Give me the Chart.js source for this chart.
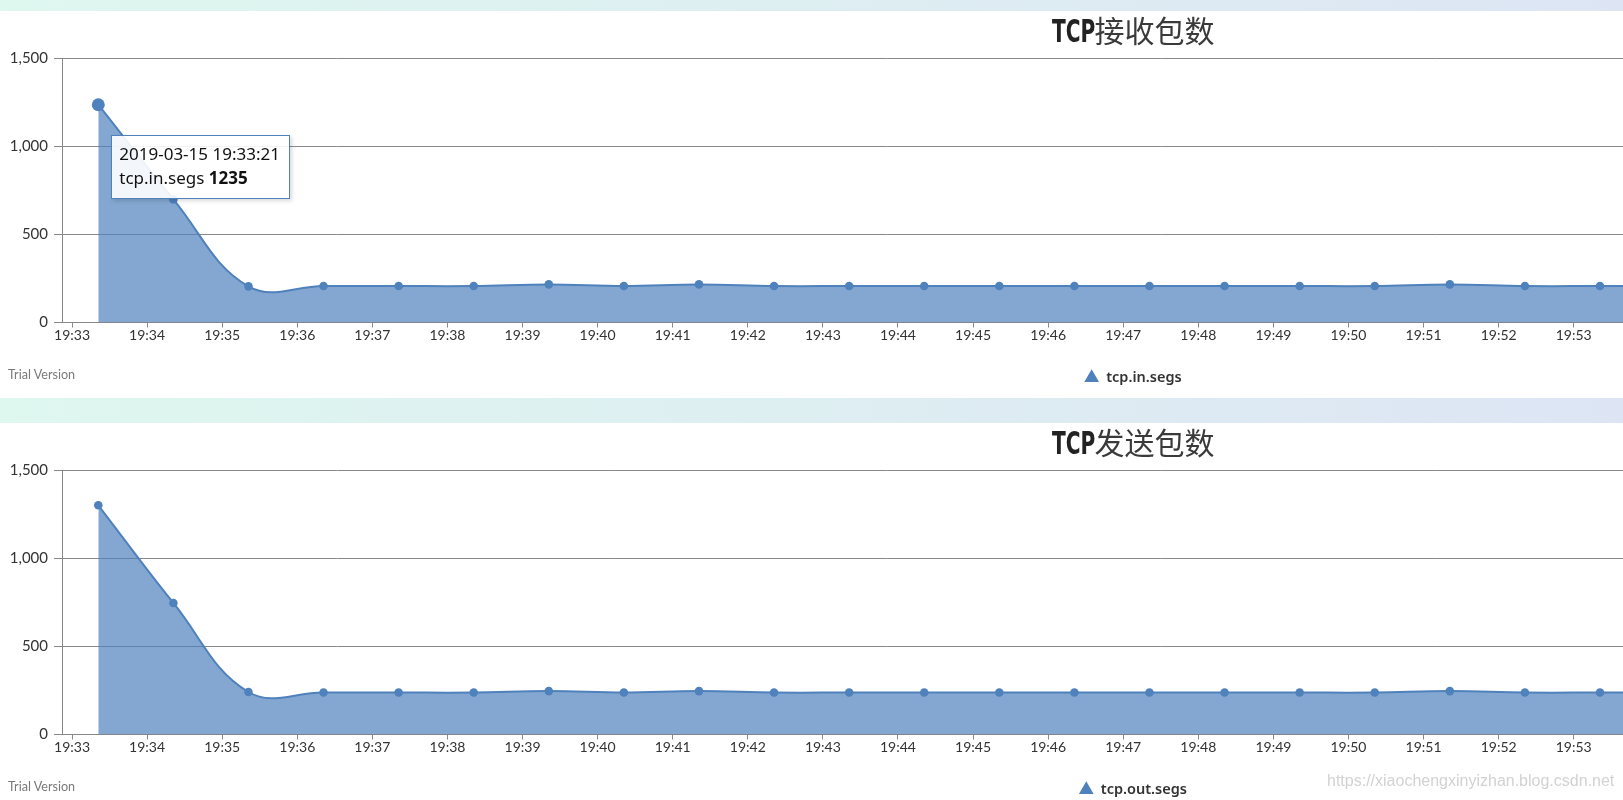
<!DOCTYPE html>
<html>
<head>
<meta charset="utf-8">
<script src="https://cdn.jsdelivr.net/npm/chart.js@4.4.1/dist/chart.umd.min.js"></script>
<style>
  html, body { margin: 0; padding: 0; width: 1623px; height: 800px; overflow: hidden; background: #fff; }
  .bar { position: absolute; left: 0; width: 1623px; background: linear-gradient(to right, #def7ef, #dde5f4); }
  .panel { position: absolute; left: 0; width: 2266px; height: 387px; background: #fff; }
  .panel canvas { position: absolute; left: 0; top: 0; }
  .title { position: absolute; left: 0; top: 3px; width: 2266px; text-align: center; line-height: 30px;
           font-size: 30px; font-family: "Noto Sans CJK SC", sans-serif; color: #3a3a3a; white-space: nowrap; }
  .title .tcp { display: inline-block; font-family: "DejaVu Sans Condensed", "DejaVu Sans", sans-serif; font-weight: bold;
                font-size: 32px; color: #222; transform: scaleX(0.7); transform-origin: 0 50%; margin-right: -19px; }
  .trial { position: absolute; left: 8px; top: 356px; font-family: Lato, sans-serif; font-size: 12.6px; color: #7a7a7a; }
  .tip { position: absolute; display: none; background: rgba(255,255,255,0.9); border: 1px solid #4f81bc;
         padding: 6px 9px 8px 7px; font-family: "Noto Sans", sans-serif; font-size: 17px; line-height: 24px;
         color: #111; box-shadow: 2px 2px 4px rgba(0,0,0,0.15); white-space: nowrap; }
  .tip b { font-weight: 700; }
  .wm { position: absolute; left: 1327px; top: 772px; font-family: "Liberation Sans", Arial, sans-serif; font-size: 16px; color: #d2d2d2; }
</style>
</head>
<body>
<div class="bar" style="top:0;height:11px;"></div>
<div class="panel" id="p1" style="top:11px;">
  <canvas id="c1" width="2266" height="387"></canvas>
  <div class="title"><span class="tcp">TCP</span>接收包数</div>
  <div class="trial">Trial Version</div>
  <div class="tip" id="c1-tip"></div>
</div>
<div class="bar" style="top:398px;height:25px;"></div>
<div class="panel" id="p2" style="top:423px;">
  <canvas id="c2" width="2266" height="387"></canvas>
  <div class="title"><span class="tcp">TCP</span>发送包数</div>
  <div class="trial">Trial Version</div>
  <div class="tip" id="c2-tip"></div>
</div>
<div class="wm">https://xiaochengxinyizhan.blog.csdn.net</div>

<script>
// ---- data ----
const BASE_DATE = '2019-03-15';
const AXIS_START = '19:33:00';
const times = ['19:33:21','19:34:21','19:35:21','19:36:21','19:37:21','19:38:21','19:39:21','19:40:21',
               '19:41:21','19:42:21','19:43:21','19:44:21','19:45:21','19:46:21','19:47:21','19:48:21',
               '19:49:21','19:50:21','19:51:21','19:52:21','19:53:21','19:54:21'];
const tcpInSegs  = [1235, 698, 205, 207, 207, 207, 216, 207, 216, 207, 207, 207, 207, 207, 207, 207, 207, 207, 216, 207, 207, 207];
const tcpOutSegs = [1300, 746, 241, 238, 238, 238, 246, 238, 246, 238, 238, 238, 238, 238, 238, 238, 238, 238, 246, 238, 238, 238];
const xTickLabels = ['19:33','19:34','19:35','19:36','19:37','19:38','19:39','19:40','19:41','19:42','19:43',
                     '19:44','19:45','19:46','19:47','19:48','19:49','19:50','19:51','19:52','19:53','19:54'];
const yTicks = [0, 500, 1000, 1500];

function secs(t) { const p = t.split(':').map(Number); return p[0]*3600 + p[1]*60 + (p[2]||0); }
const start = secs(AXIS_START);
const rel = t => secs(t) - start;

const BLUE = '#4f81bc';

function makeChart(id, name, values, showTip) {
  const canvas = document.getElementById(id);
  const chart = new Chart(canvas, {
    type: 'line',
    data: {
      datasets: [{
        label: name,
        data: times.map((t, i) => ({ x: rel(t), y: values[i] })),
        borderColor: BLUE,
        backgroundColor: 'rgba(79,129,188,0.7)',
        fill: 'origin',
        tension: 0.4,
        borderWidth: 2,
        pointRadius: 4.3,
        pointBackgroundColor: BLUE,
        pointBorderWidth: 0,
        pointHoverRadius: 6.5,
        pointHoverBorderWidth: 0,
        pointHoverBackgroundColor: BLUE
      }]
    },
    options: {
      responsive: false,
      animation: false,
      events: [],
      layout: { padding: { top: 47, right: 0, bottom: 3, left: 0 } },
      scales: {
        x: {
          type: 'linear',
          min: -8,
          max: 1748,
          afterBuildTicks: s => { s.ticks = xTickLabels.map(l => ({ value: rel(l) })); },
          afterFit: s => { s.height = 42; },
          ticks: {
            callback: (v, i) => xTickLabels[i],
            autoSkip: false, maxRotation: 0, color: '#333', font: { family: 'Lato', size: 14 }, padding: 0
          },
          grid: { drawOnChartArea: false, color: '#888', tickLength: 5 },
          border: { color: '#888' }
        },
        y: {
          min: 0, max: 1500,
          afterBuildTicks: s => { s.ticks = yTicks.map(v => ({ value: v })); },
          afterFit: s => { s.width = 62; },
          ticks: { callback: v => v.toLocaleString('en-US'), color: '#333', font: { family: 'Lato', size: 15 }, padding: 6 },
          grid: { color: '#888', tickLength: 8 },
          border: { color: '#888' }
        }
      },
      plugins: {
        title: { display: false },
        legend: {
          position: 'bottom',
          labels: {
            usePointStyle: true, boxHeight: 12, padding: 6, color: '#333',
            font: { family: "'Noto Sans'", size: 14.5, weight: '600' },
            generateLabels: () => [{ text: name, fillStyle: BLUE, strokeStyle: BLUE, lineWidth: 0,
                                     pointStyle: 'triangle', datasetIndex: 0, hidden: false, fontColor: '#333' }]
          }
        },
        tooltip: {
          enabled: false,
          external: (ctx) => {
            const tt = ctx.tooltip;
            if (!tt.dataPoints || !tt.dataPoints.length) return;
            const dp = tt.dataPoints[0];
            const el = document.getElementById(id + '-tip');
            el.innerHTML = '<div>' + BASE_DATE + ' ' + times[dp.dataIndex] + '</div><div>' + name + ' <b>' + dp.raw.y + '</b></div>';
            el.style.left = (dp.element.x + 13) + 'px';
            el.style.top = (dp.element.y + 30) + 'px';
            el.style.display = 'block';
          }
        }
      }
    }
  });
  if (showTip) {
    const p = chart.getDatasetMeta(0).data[0];
    chart.setActiveElements([{ datasetIndex: 0, index: 0 }]);
    chart.tooltip.setActiveElements([{ datasetIndex: 0, index: 0 }], { x: p.x, y: p.y });
    chart.update();
  }
  return chart;
}

makeChart('c1', 'tcp.in.segs', tcpInSegs, true);
makeChart('c2', 'tcp.out.segs', tcpOutSegs, false);
</script>
</body>
</html>
